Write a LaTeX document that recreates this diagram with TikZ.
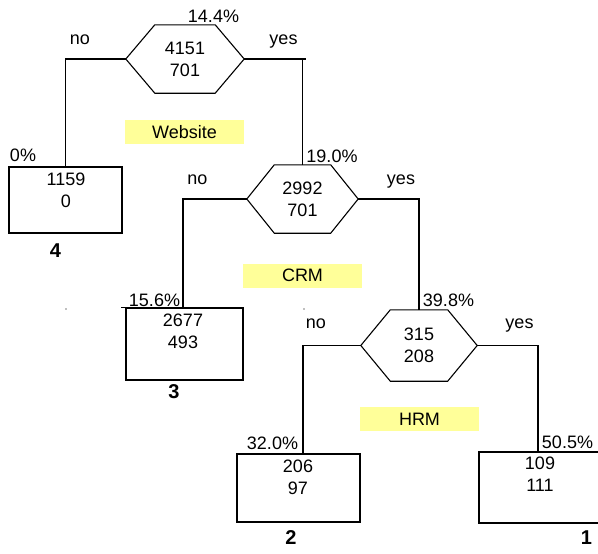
\documentclass[tikz,border=0pt]{standalone}
\usepackage{fontspec}
\setmainfont{Liberation Sans}
\begin{document}
\begin{tikzpicture}[x=1pt,y=-1pt,
  every node/.style={font=\fontsize{18}{22}\selectfont, inner sep=0pt},
  ln/.style={line width=1.1pt},
  hexbox/.style={minimum width=#1, draw=none, align=center},
  leaf/.style={draw, line width=1.1pt, minimum width=#1},
  note/.style={fill={rgb,255:red,255;green,255;blue,153}, minimum width=119pt, minimum height=24pt},
  lbl/.style={anchor=base},
  num/.style={anchor=base, font=\fontsize{20}{24}\selectfont\bfseries}]
\useasboundingbox (0,0) rectangle (598,554);
\newcommand{\hexdraw}[2]{%
  \draw[ln] (#1.west) -- ([xshift=#2]#1.north west) -- ([xshift=-#2]#1.north east) -- (#1.east)
    -- ([xshift=-#2]#1.south east) -- ([xshift=#2]#1.south west) -- cycle;}
% decision hexagons
\node[hexbox=118pt, minimum height=68pt] (h1) at (185,59) {4151\\701};
\hexdraw{h1}{29}
\node[hexbox=111pt, minimum height=68pt] (h2) at (302.5,199) {2992\\701};
\hexdraw{h2}{27.5}
\node[hexbox=116pt, minimum height=71pt] (h3) at (419,345.5) {315\\208};
\hexdraw{h3}{29.5}
% leaves
\node[leaf=113pt, minimum height=66pt] (b4) at (65.5,200) {};
\node[leaf=117pt, minimum height=72pt] (b3) at (184.5,344) {};
\node[leaf=123pt, minimum height=68pt] (b2) at (298.5,488) {};
\node[leaf=124pt, minimum height=71pt] (b1) at (541,487.5) {};
\draw[line width=1.8pt] ([xshift=-4]b3.north west) -- (b3.north east);
\node[align=center] (t4) at (66,190) {1159\\0};
\node[align=center] (t3) at (183,331.5) {2677\\493};
\node[align=center] (t2) at (298,477) {206\\97};
\node[align=center] (t1) at (540,474.5) {109\\111};
% connectors
\draw[ln] (h1.west) -| (b4.north);
\draw[ln] (h1.east) -- ([xshift=3]h1.east -| h2.north);
\draw[ln] (h1.east -| h2.north) -- (h2.north);
\draw[ln] (h2.west) -| ([xshift=-1.5]b3.north);
\draw[ln] (h2.east) -| (h3.north);
\draw[ln] (h3.west) -| ([xshift=4.5]b2.north);
\draw[ln] (h3.east) -| ([xshift=-3]b1.north);
% notes
\node[note] (w) at (184.5,132) {Website};
\node[note] (c) at (302.5,275.5) {CRM};
\node[note] (r) at (419.5,419) {HRM};
% labels
\node[lbl] (p1) at (213.5,23) {14.4\%};
\node[lbl] (n1) at (80,45) {no};
\node[lbl] (y1) at (283.5,45) {yes};
\node[lbl] (p4) at (23,161) {0\%};
\node[lbl] (p2) at (332,162) {19.0\%};
\node[lbl] (n2) at (197.5,184) {no};
\node[lbl] (y2) at (401,184) {yes};
\node[lbl] (p3) at (154.5,306) {15.6\%};
\node[lbl] (p5) at (448.5,306) {39.8\%};
\node[lbl] (n3) at (316,328) {no};
\node[lbl] (y3) at (519.5,328) {yes};
\node[lbl] (p6) at (272.5,449) {32.0\%};
\node[lbl] (p7) at (567.5,448) {50.5\%};
\node[num] (k4) at (55.5,257) {4};
\node[num] (k3) at (174,398) {3};
\node[num] (k2) at (291,544) {2};
\node[num] (k1) at (586.5,544) {1};
\fill[gray] (66,309) circle (0.8);
\fill[gray] (304,309) circle (0.8);
\end{tikzpicture}
\end{document}
